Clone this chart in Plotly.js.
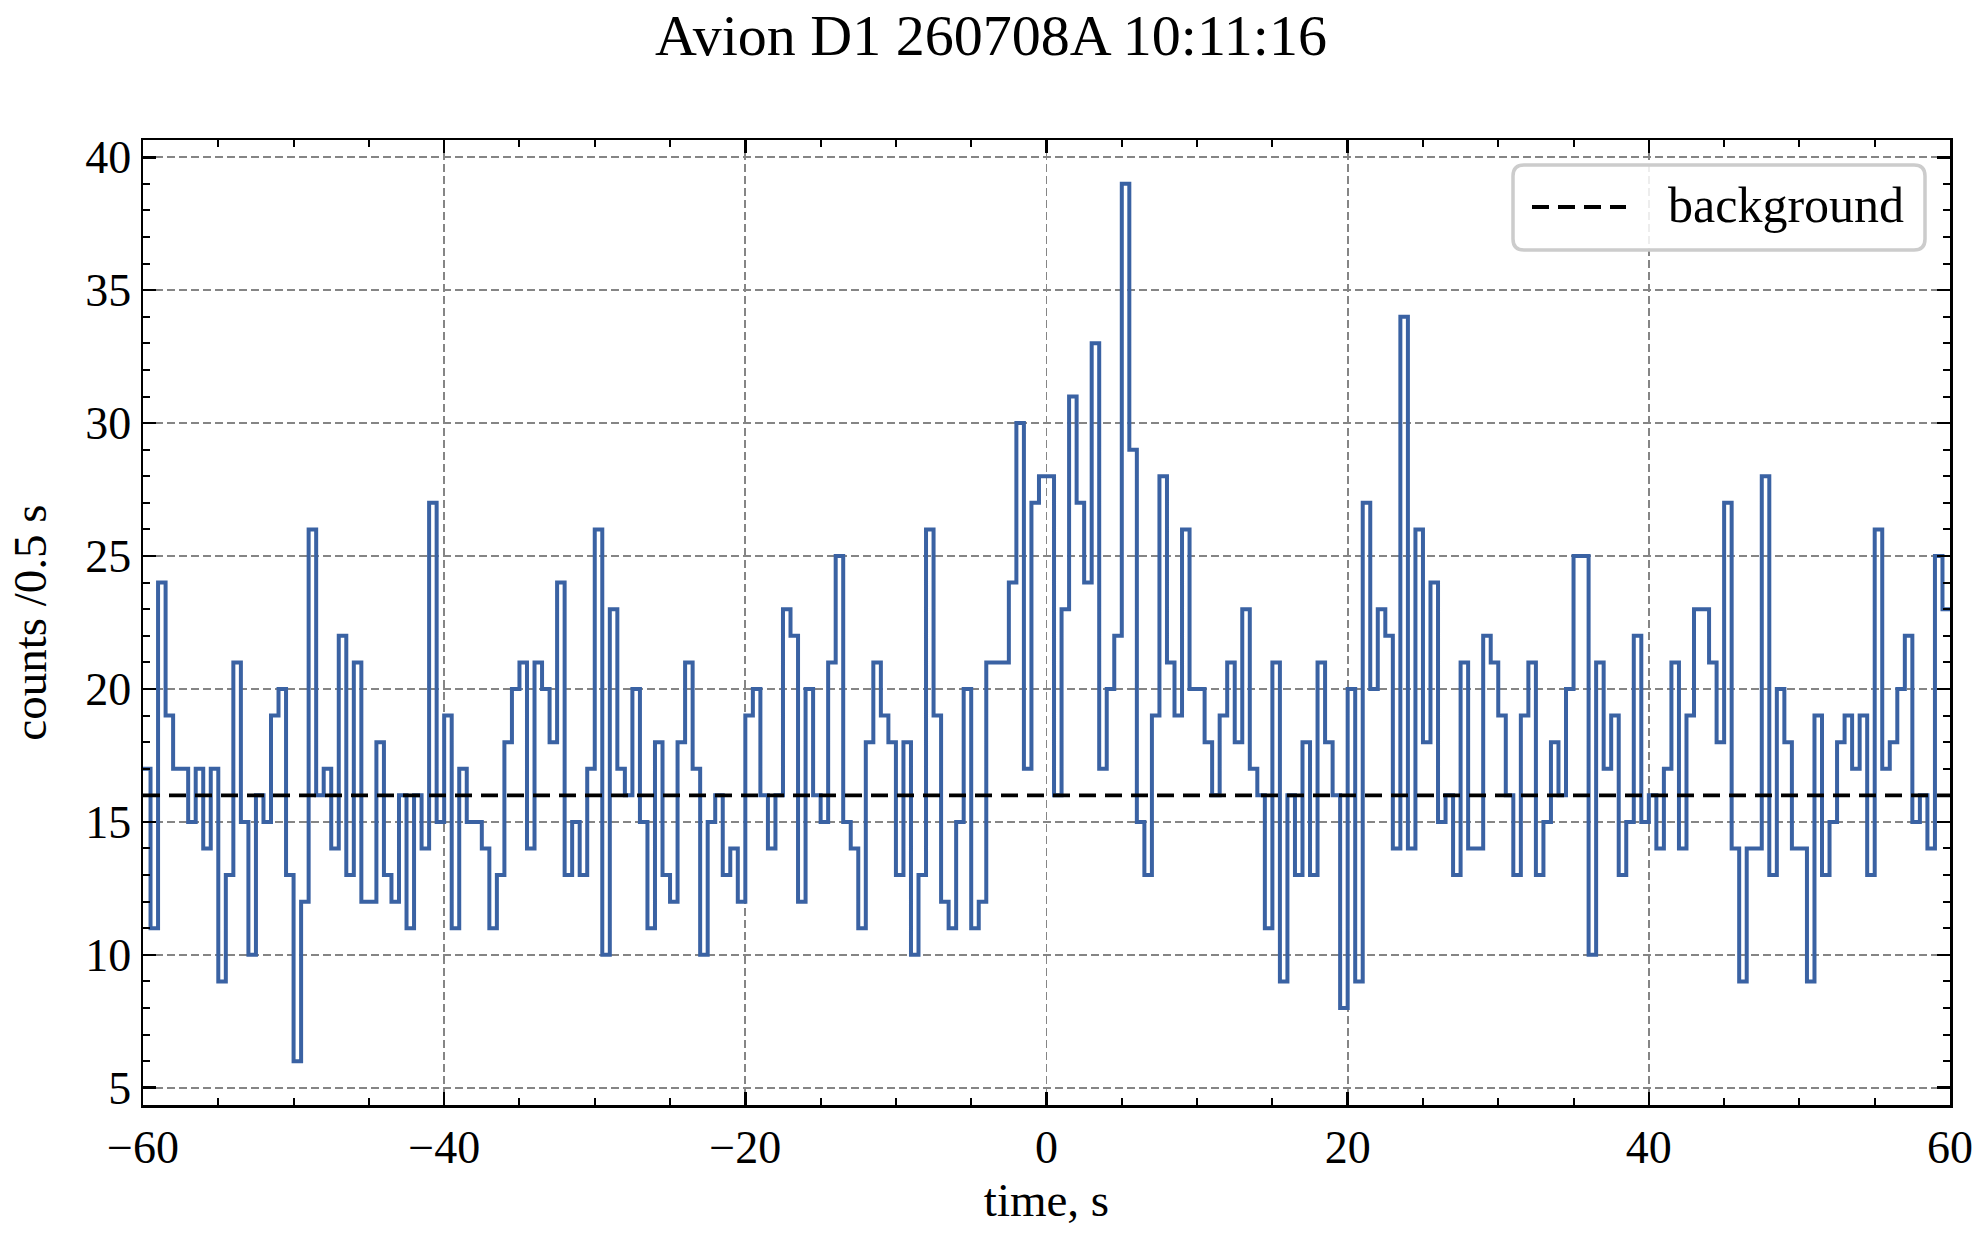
<!DOCTYPE html>
<html>
<head>
<meta charset="utf-8">
<script src="https://cdn.plot.ly/plotly-3.0.1.min.js"></script>
<style>
  html, body { margin: 0; padding: 0; background: #fff; }
  #chart { width: 1982px; height: 1235px; }
</style>
</head>
<body>
<div id="chart"></div>
<script>
// Light curve, 0.5 s bins from -60 s to +60 s, counts per bin.
const BIN_START = -60;
const BIN_WIDTH = 0.5;
const BACKGROUND_LEVEL = 16;

const counts = [
  17, 11, 24, 19, 17, 17, 15, 17, 14, 17, 9, 13, 21, 15, 10, 16, 15, 19, 20, 13,
  6, 12, 26, 16, 17, 14, 22, 13, 21, 12, 12, 18, 13, 12, 16, 11, 16, 14, 27, 15,
  19, 11, 17, 15, 15, 14, 11, 13, 18, 20, 21, 14, 21, 20, 18, 24, 13, 15, 13, 17,
  26, 10, 23, 17, 16, 20, 15, 11, 18, 13, 12, 18, 21, 17, 10, 15, 16, 13, 14, 12,
  19, 20, 16, 14, 16, 23, 22, 12, 20, 16, 15, 21, 25, 15, 14, 11, 18, 21, 19, 18,
  13, 18, 10, 13, 26, 19, 12, 11, 15, 20, 11, 12, 21, 21, 21, 24, 30, 17, 27, 28,
  28, 16, 23, 31, 27, 24, 33, 17, 20, 22, 39, 29, 15, 13, 19, 28, 21, 19, 26, 20,
  20, 18, 16, 19, 21, 18, 23, 17, 16, 11, 21, 9, 16, 13, 18, 13, 21, 18, 16, 8,
  20, 9, 27, 20, 23, 22, 14, 34, 14, 26, 18, 24, 15, 16, 13, 21, 14, 14, 22, 21,
  19, 16, 13, 19, 21, 13, 15, 18, 16, 20, 25, 25, 10, 21, 17, 19, 13, 15, 22, 15,
  16, 14, 17, 21, 14, 19, 23, 23, 21, 18, 27, 14, 9, 14, 14, 28, 13, 20, 18, 14,
  14, 9, 19, 13, 15, 18, 19, 17, 19, 13, 26, 17, 18, 20, 22, 15, 16, 14, 25, 23
];

const xTickVals = [-60, -40, -20, 0, 20, 40, 60];
const xTickText = ["\u221260", "\u221240", "\u221220", "0", "20", "40", "60"];
const yTickVals = [5, 10, 15, 20, 25, 30, 35, 40];

// bin edges; last value repeated so the final bin gets its full width
const edges = counts.map((_, i) => BIN_START + i * BIN_WIDTH);
edges.push(BIN_START + counts.length * BIN_WIDTH);
const stepY = counts.concat([counts[counts.length - 1]]);

const FONT = "'Liberation Serif', 'DejaVu Serif', serif";
const GRID = "#858585";
const BG_DASH = "17px,9px";

const W = 1982, H = 1235;
const M = { l: 143, r: 32, t: 140, b: 130 };
const PW = W - M.l - M.r, PH = H - M.t - M.b;
// pixel -> paper helpers, used only for the matplotlib-style legend box
const px = (x) => (x - M.l) / PW;
const py = (y) => (H - M.b - y) / PH;

function roundedBox(x0, y0, x1, y1, r) {
  const rx = r / PW, ry = r / PH;
  const a = px(x0), b = px(x1), top = py(y0), bot = py(y1);
  return `M${a + rx},${top} L${b - rx},${top} Q${b},${top} ${b},${top - ry} ` +
    `L${b},${bot + ry} Q${b},${bot} ${b - rx},${bot} L${a + rx},${bot} ` +
    `Q${a},${bot} ${a},${bot + ry} L${a},${top - ry} Q${a},${top} ${a + rx},${top} Z`;
}

const axisCommon = {
  showline: true, linecolor: "#000", linewidth: 2.5, mirror: "allticks",
  ticks: "inside", ticklen: 13, tickwidth: 2.5, tickcolor: "#000",
  showgrid: true, gridcolor: GRID, gridwidth: 1.8, griddash: "8px,4px",
  zeroline: false, tickfont: { family: FONT, size: 46, color: "#000" },
};

const traces = [
  {
    x: edges, y: stepY, type: "scatter", mode: "lines",
    line: { shape: "hv", color: "#3a62a3", width: 4 },
    showlegend: false, hoverinfo: "skip",
  },
  {
    x: [edges[0], edges[edges.length - 1]], y: [BACKGROUND_LEVEL, BACKGROUND_LEVEL],
    type: "scatter", mode: "lines", name: "background", showlegend: false,
    line: { color: "#000", width: 3.8, dash: BG_DASH },
  },
];

const legendY = 207;
const shapes = [
  {
    type: "path", xref: "paper", yref: "paper", layer: "above",
    path: roundedBox(1513, 165, 1925, 250, 11),
    fillcolor: "rgba(255,255,255,0.85)", line: { color: "#cccccc", width: 3.5 },
  },
  {
    type: "line", xref: "paper", yref: "paper", layer: "above",
    x0: px(1532), x1: px(1626), y0: py(legendY), y1: py(legendY),
    line: { color: "#000", width: 3.8, dash: BG_DASH },
  },
];
const annotations = [
  {
    xref: "paper", yref: "paper", x: px(1666), y: py(legendY - 2),
    xanchor: "left", yanchor: "middle", showarrow: false,
    text: "background", font: { family: FONT, size: 50, color: "#000" },
  },
];

const layout = {
  width: W, height: H,
  paper_bgcolor: "#fff", plot_bgcolor: "#fff",
  margin: M,
  font: { family: FONT, size: 46, color: "#000" },
  showlegend: false,
  title: {
    text: "Avion D1 260708A 10:11:16",
    font: { family: FONT, size: 58, color: "#000" },
    xref: "container", x: 0.5, xanchor: "center",
    yref: "container", y: 0.972, yanchor: "middle",
  },
  xaxis: {
    ...axisCommon, range: [-60, 60], tickvals: xTickVals, ticktext: xTickText,
    minor: { dtick: 5, ticks: "inside", ticklen: 7, tickwidth: 2, tickcolor: "#000", showgrid: false },
    title: { text: "time, s", font: { family: FONT, size: 47, color: "#000" }, standoff: 12 },
  },
  yaxis: {
    ...axisCommon, range: [4.35, 40.65], tickvals: yTickVals,
    minor: { dtick: 1, ticks: "inside", ticklen: 7, tickwidth: 2, tickcolor: "#000", showgrid: false },
    title: { text: "counts /0.5 s", font: { family: FONT, size: 47, color: "#000" }, standoff: 24 },
  },
  shapes,
  annotations,
};

Plotly.newPlot("chart", traces, layout, { displayModeBar: false, staticPlot: true });
</script>
</body>
</html>
